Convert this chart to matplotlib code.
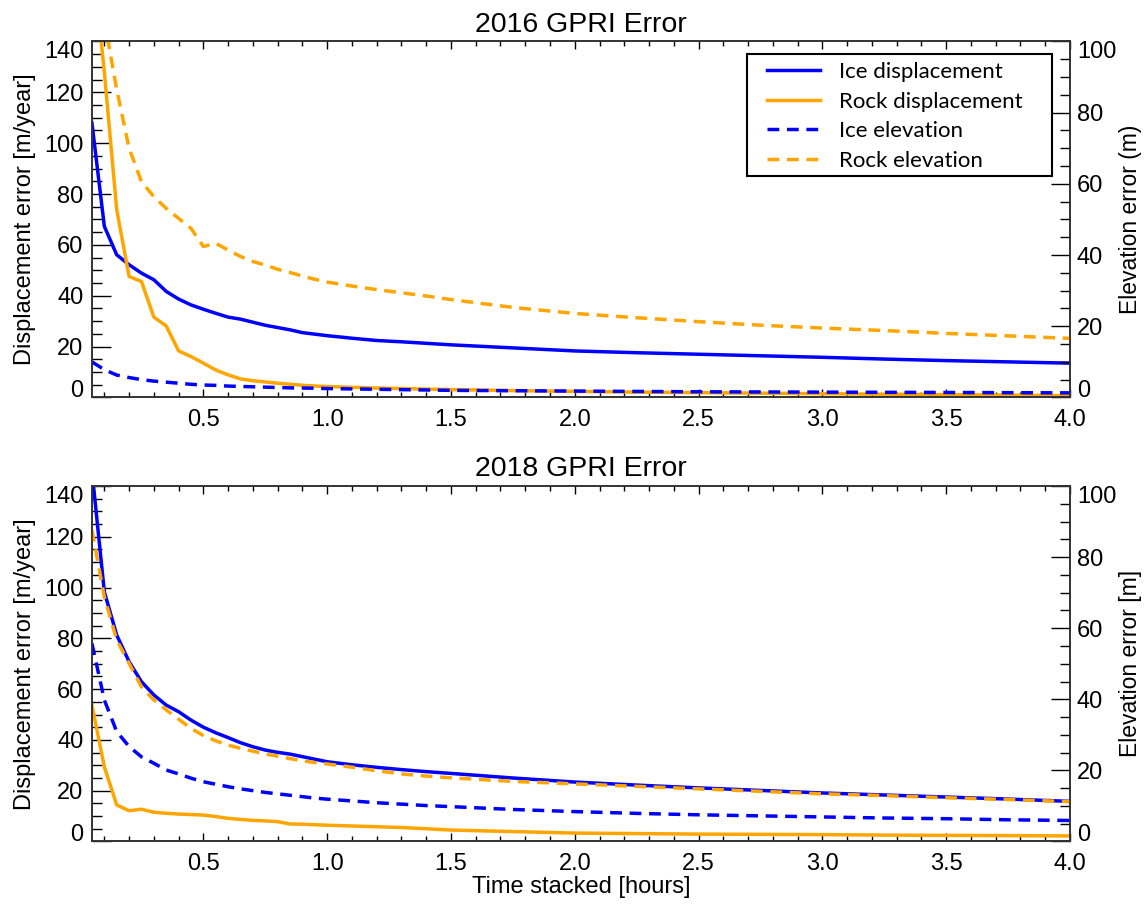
import matplotlib
matplotlib.use("Agg")
import matplotlib.pyplot as plt
from matplotlib.patches import Rectangle

plt.rcParams["font.family"] = ["Liberation Sans", "DejaVu Sans"]
plt.rcParams["font.size"] = 17

BLUE = "#0000FF"
ORANGE = "#FFA500"

# time stacked [hours]
hours = [0.05, 0.10, 0.15, 0.20, 0.25, 0.30, 0.35, 0.40, 0.45, 0.50,
         0.55, 0.60, 0.65, 0.70, 0.75, 0.80, 0.85, 0.90, 0.95, 1.00,
         1.1, 1.2, 1.3, 1.4, 1.5, 1.75, 2.0, 2.25, 2.5, 2.75,
         3.0, 3.25, 3.5, 3.75, 4.0]

# 2016
ice_disp_2016 = [107.9, 67.3, 56.1, 52.2, 48.9, 46.3, 41.7, 38.7, 36.4, 34.7,
                 33.1, 31.6, 30.8, 29.6, 28.4, 27.5, 26.6, 25.5, 24.9, 24.3,
                 23.3, 22.4, 21.9, 21.3, 20.7, 19.5, 18.3, 17.6, 17.0, 16.4,
                 15.8, 15.1, 14.5, 14.0, 13.5]
rock_disp_2016 = [175.0, 128.0, 73.8, 47.6, 45.6, 31.6, 28.1, 18.3, 16.1, 13.5,
                  10.8, 8.9, 7.3, 6.6, 6.1, 5.6, 5.2, 4.8, 4.5, 4.3,
                  4.0, 3.7, 3.5, 3.3, 3.1, 2.7, 2.4, 2.1, 1.9, 1.7,
                  1.5, 1.3, 1.1, 0.9, 0.7]
ice_elev_2016 = [10.0, 7.8, 6.3, 5.6, 5.0, 4.6, 4.3, 4.0, 3.7, 3.5,
                 3.4, 3.2, 3.1, 3.0, 2.9, 2.8, 2.7, 2.65, 2.6, 2.5,
                 2.4, 2.3, 2.2, 2.1, 2.0, 1.9, 1.8, 1.7, 1.6, 1.55,
                 1.5, 1.45, 1.4, 1.35, 1.3]
rock_elev_2016 = [140.0, 106.0, 86.5, 70.0, 60.6, 56.4, 53.1, 50.3, 47.5, 42.4,
                  43.3, 41.4, 39.6, 38.2, 37.2, 36.0, 35.1, 34.1, 33.2, 32.4,
                  31.3, 30.3, 29.4, 28.5, 27.5, 25.3, 23.6, 22.4, 21.3, 20.3,
                  19.5, 18.8, 18.0, 17.3, 16.6]

# 2018
ice_disp_2018 = [146.0, 98.3, 81.3, 70.8, 62.9, 57.7, 53.7, 51.1, 47.8, 45.0,
                 42.8, 40.9, 38.9, 37.3, 36.0, 35.1, 34.4, 33.4, 32.4, 31.4,
                 30.2, 29.2, 28.3, 27.5, 26.8, 25.0, 23.4, 22.2, 21.1, 20.1,
                 19.1, 18.3, 17.5, 16.7, 15.8]
rock_disp_2018 = [53.7, 29.4, 14.4, 12.1, 12.7, 11.5, 11.1, 10.8, 10.6, 10.4,
                  9.8, 9.1, 8.7, 8.3, 8.1, 7.8, 6.9, 6.8, 6.6, 6.4,
                  6.1, 5.8, 5.5, 5.0, 4.5, 3.9, 3.3, 3.1, 2.9, 2.8,
                  2.7, 2.5, 2.4, 2.3, 2.2]
ice_elev_2018 = [55.7, 39.8, 30.9, 26.7, 23.8, 22.0, 20.1, 19.0, 17.8, 16.8,
                 16.1, 15.4, 14.8, 14.3, 13.8, 13.4, 13.0, 12.6, 12.2, 11.9,
                 11.4, 10.9, 10.5, 10.1, 9.8, 9.0, 8.4, 7.9, 7.5, 7.2,
                 6.9, 6.6, 6.4, 6.1, 5.9]
rock_elev_2018 = [87.6, 68.8, 56.7, 50.1, 43.5, 39.8, 37.0, 34.4, 31.8, 29.8,
                  28.3, 27.1, 26.2, 25.4, 24.6, 24.0, 23.3, 22.7, 22.2, 21.8,
                  20.9, 19.9, 19.0, 18.4, 17.9, 16.9, 16.2, 15.5, 14.8, 14.1,
                  13.4, 12.9, 12.3, 11.8, 11.2]

x_ticks = [0.5, 1.0, 1.5, 2.0, 2.5, 3.0, 3.5, 4.0]
disp_ticks = [0, 20, 40, 60, 80, 100, 120, 140]
elev_ticks = [0, 20, 40, 60, 80, 100]

LW = 2.5
DASH = (3.4, 2.2)
TICK_FS = 17
LABEL_FS = 17
W, H = 1148, 905


def edge_labels(axis):
    # IDL-style: bottom label sits on the axis, top label hangs below it
    ticks = axis.get_major_ticks()
    ticks[0].label1.set_va("baseline")
    ticks[0].label2.set_va("baseline")
    ticks[-1].label1.set_va("top")
    ticks[-1].label2.set_va("top")


def panel(rect, title, ice_d, rock_d, ice_e, rock_e, elev_label):
    ax = fig.add_axes(rect)
    ax2 = ax.twinx()
    h1, = ax.plot(hours, ice_d, color=BLUE, lw=LW, label="Ice displacement")
    h2, = ax.plot(hours, rock_d, color=ORANGE, lw=LW, label="Rock displacement")
    h3, = ax2.plot(hours, ice_e, color=BLUE, lw=LW, ls="--", dashes=DASH, label="Ice elevation")
    h4, = ax2.plot(hours, rock_e, color=ORANGE, lw=LW, ls="--", dashes=DASH, label="Rock elevation")

    ax.set_xlim(0.05, 4.0)
    ax.set_ylim(0, 140)
    ax2.set_ylim(0, 100)
    ax.set_xticks(x_ticks)
    ax.set_xticks([i / 10 for i in range(1, 40)], minor=True)
    ax.set_xticklabels([f"{v:.1f}" for v in x_ticks])
    ax.set_yticks(disp_ticks)
    ax.set_yticks(list(range(0, 141, 5)), minor=True)
    ax2.set_yticks(elev_ticks)
    ax2.set_yticks(list(range(0, 101, 5)), minor=True)

    ax.tick_params(axis="x", which="both", direction="in", top=True, pad=8, labelsize=TICK_FS)
    ax.tick_params(axis="x", which="major", length=6, width=1)
    ax.tick_params(axis="x", which="minor", length=3.5, width=1)
    ax.tick_params(axis="y", which="both", direction="in", right=False, pad=6, labelsize=TICK_FS)
    ax.tick_params(axis="y", which="major", length=13.5, width=1)
    ax.tick_params(axis="y", which="minor", length=7, width=1)
    ax2.tick_params(axis="y", which="both", direction="in", pad=5, labelsize=TICK_FS)
    ax2.tick_params(axis="y", which="major", length=14, width=1)
    ax2.tick_params(axis="y", which="minor", length=7, width=1)
    edge_labels(ax.yaxis)
    edge_labels(ax2.yaxis)

    for a in (ax, ax2):
        for s in a.spines.values():
            s.set_linewidth(1.2)
            s.set_color("#333333")

    ax.set_title(title, fontsize=20.5, pad=7)
    ax.set_ylabel("Displacement error [m/year]", fontsize=LABEL_FS, labelpad=6)
    ax2.set_ylabel(elev_label, fontsize=16.5, labelpad=2)
    return ax, ax2, [h1, h2, h3, h4]


fig = plt.figure(figsize=(W / 100, H / 100), dpi=100)

ax_top, ax_top2, handles = panel([0.0801, 0.5608, 0.8519, 0.3934], "2016 GPRI Error",
                                 ice_disp_2016, rock_disp_2016, ice_elev_2016, rock_elev_2016,
                                 "Elevation error (m)")
ax_bot, ax_bot2, _ = panel([0.0801, 0.0702, 0.8519, 0.3928], "2018 GPRI Error",
                           ice_disp_2018, rock_disp_2018, ice_elev_2018, rock_elev_2018,
                           "Elevation error [m]")
ax_bot.set_xlabel("Time stacked [hours]", fontsize=LABEL_FS, labelpad=1)

# legend box: frame drawn separately so the wider side padding matches
box = Rectangle((747 / W, 1 - 176 / H), 305 / W, 122 / H, transform=fig.transFigure,
                facecolor="white", edgecolor="black", lw=1.5, zorder=4, clip_on=False)
ax_top2.add_patch(box)
leg = ax_top2.legend(handles=handles, loc="upper left",
                     bbox_to_anchor=(747 / W, 1 - 42 / H),
                     bbox_transform=fig.transFigure,
                     prop={"family": "Lato", "size": 16},
                     frameon=False,
                     handlelength=2.4, handletextpad=0.85, labelspacing=0.43,
                     borderpad=0.9, borderaxespad=0)
leg.set_zorder(5)

fig.savefig("out.png", dpi=100)
